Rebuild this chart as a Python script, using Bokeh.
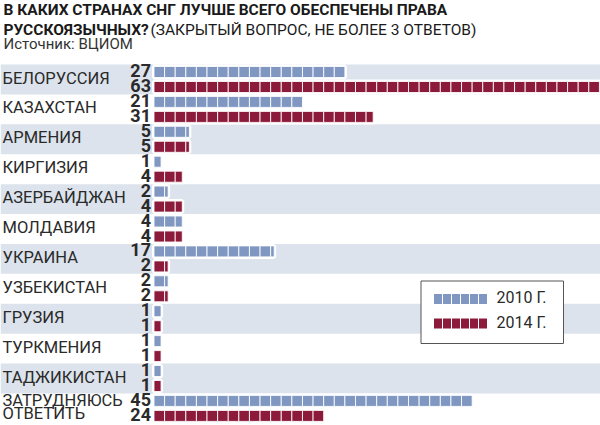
import math
from bokeh.plotting import figure
from bokeh.models import Range1d
from bokeh.core.properties import value
from bokeh.embed import file_html
from bokeh.resources import INLINE

# ---- data ----
title_bold_1 = "В КАКИХ СТРАНАХ СНГ ЛУЧШЕ ВСЕГО ОБЕСПЕЧЕНЫ ПРАВА"
title_bold_2 = "РУССКОЯЗЫЧНЫХ?"
title_regular = "(ЗАКРЫТЫЙ ВОПРОС, НЕ БОЛЕЕ 3 ОТВЕТОВ)"
source_text = "Источник: ВЦИОМ"
categories = ["БЕЛОРУССИЯ", "КАЗАХСТАН", "АРМЕНИЯ", "КИРГИЗИЯ", "АЗЕРБАЙДЖАН",
              "МОЛДАВИЯ", "УКРАИНА", "УЗБЕКИСТАН", "ГРУЗИЯ", "ТУРКМЕНИЯ",
              "ТАДЖИКИСТАН", "ЗАТРУДНЯЮСЬ\nОТВЕТИТЬ"]
values_2010 = [27, 21, 5, 1, 2, 4, 17, 2, 1, 1, 1, 45]
values_2014 = [63, 31, 5, 4, 4, 4, 2, 2, 1, 1, 1, 24]
series_labels = ["2010 Г.", "2014 Г."]

# ---- style ----
W, H = 600, 425
PX_PER_UNIT = 7.07
BAR_START_PX = 153.5
ROW_PX = 29.9
ROW0_PX = 79.0
STEP = 1.5  # pictogram square size, in value units
BLUE = "#7f97c1"
RED = "#8c1a3a"
BAND = "#dce3ec"
TXT = "#2a2a2a"
FONT = "Roboto"
TEXT_SHIFT = -1.5  # px, nudges middle-baseline text up to centre capitals

x0 = -BAR_START_PX / PX_PER_UNIT
x1 = (W - BAR_START_PX) / PX_PER_UNIT
y_top = -ROW0_PX / ROW_PX
y_bot = (H - ROW0_PX) / ROW_PX
ux = 1.0 / PX_PER_UNIT   # one pixel in x units
uy = 1.0 / ROW_PX        # one pixel in y units
ts = TEXT_SHIFT * uy

p = figure(width=W, height=H, output_backend="svg", toolbar_location=None,
           x_range=Range1d(x0, x1), y_range=Range1d(y_bot, y_top),
           x_axis_location=None, y_axis_location=None, min_border=0)
p.grid.visible = False
p.outline_line_color = None
p.background_fill_color = "white"

n = len(categories)
rows = list(range(n))

# alternating bands
band_rows = [i for i in rows if i % 2 == 0]
p.quad(left=[x0] * len(band_rows), right=[x1] * len(band_rows),
       top=[i - 0.5 for i in band_rows], bottom=[i + 0.5 for i in band_rows],
       fill_color=BAND, line_color=None)

BAR_H = 11 * uy
OFF = 7.5 * uy

def draw_series(vals, sign, color):
    ys = [i + sign * OFF for i in rows]
    # white surround
    p.quad(left=[0] * n, right=vals, top=[y - BAR_H / 2 for y in ys],
           bottom=[y + BAR_H / 2 for y in ys], fill_color="white",
           line_color="white", line_width=4)
    L, R, T, B = [], [], [], []
    for y, v in zip(ys, vals):
        k = int(math.ceil(v / STEP - 1e-9))
        for j in range(k):
            L.append(j * STEP)
            R.append(min((j + 1) * STEP, v))
            T.append(y - BAR_H / 2)
            B.append(y + BAR_H / 2)
    p.quad(left=L, right=R, top=T, bottom=B, fill_color=color,
           line_color="white", line_width=1, line_alpha=0.85)
    p.text(x=[0] * n, y=[y + ts for y in ys], text=[str(v) for v in vals],
           x_offset=-3, text_align="right", text_baseline="middle",
           text_font=value(FONT), text_font_style="bold",
           text_font_size="18px", text_color=TXT)

draw_series(values_2010, -1, BLUE)
draw_series(values_2014, +1, RED)

# category labels (multi-line labels split into stacked lines)
lx, ly, lt = [], [], []
for i, c in enumerate(categories):
    parts = c.split("\n")
    m = len(parts)
    for j, part in enumerate(parts):
        lx.append(x0)
        ly.append(i + ts + (j - (m - 1) / 2) * 13.5 * uy)
        lt.append(part)
p.text(x=lx, y=ly, text=lt, x_offset=2,
       text_align="left", text_baseline="middle",
       text_font=value(FONT), text_font_size="16.5px", text_color=TXT)

# titles
p.text(x=[x0], y=[y_top + 10.5 * uy + ts], text=[title_bold_1], x_offset=3,
       text_baseline="middle", text_font=value(FONT), text_font_style="bold",
       text_font_size="15.5px", text_color="#1a1a1a")
p.text(x=[x0], y=[y_top + 31 * uy + ts], text=[title_bold_2], x_offset=3,
       text_baseline="middle", text_font=value(FONT), text_font_style="bold",
       text_font_size="15.5px", text_color="#1a1a1a")
p.text(x=[x0], y=[y_top + 31 * uy + ts], text=[title_regular], x_offset=150,
       text_baseline="middle", text_font=value(FONT),
       text_font_size="15.5px", text_color="#1a1a1a")
p.text(x=[x0], y=[y_top + 45 * uy + ts], text=[source_text], x_offset=3,
       text_baseline="middle", text_font=value(FONT),
       text_font_size="15px", text_color="#333333")

# legend box
lx0 = x0 + 420.5 * ux
lx1 = x0 + 563 * ux
ly0 = y_top + 280.5 * uy
ly1 = y_top + 343 * uy
p.quad(left=[lx0], right=[lx1], top=[ly0], bottom=[ly1],
       fill_color="white", line_color="#555555", line_width=1)
for s, (lab, col) in enumerate(zip(series_labels, [BLUE, RED])):
    yc = y_top + (298.5 + 24.5 * s) * uy
    sl = [x0 + (433 + 9 * j) * ux for j in range(6)]
    p.quad(left=sl, right=[v + 9 * ux for v in sl],
           top=[yc - 5.5 * uy] * 6, bottom=[yc + 5.5 * uy] * 6,
           fill_color=col, line_color="white", line_width=1)
    p.text(x=[x0 + 496 * ux], y=[yc + ts], text=[lab], text_baseline="middle",
           text_font=value(FONT), text_font_size="16px", text_color=TXT)

open("out.html", "w").write(file_html(p, INLINE))
